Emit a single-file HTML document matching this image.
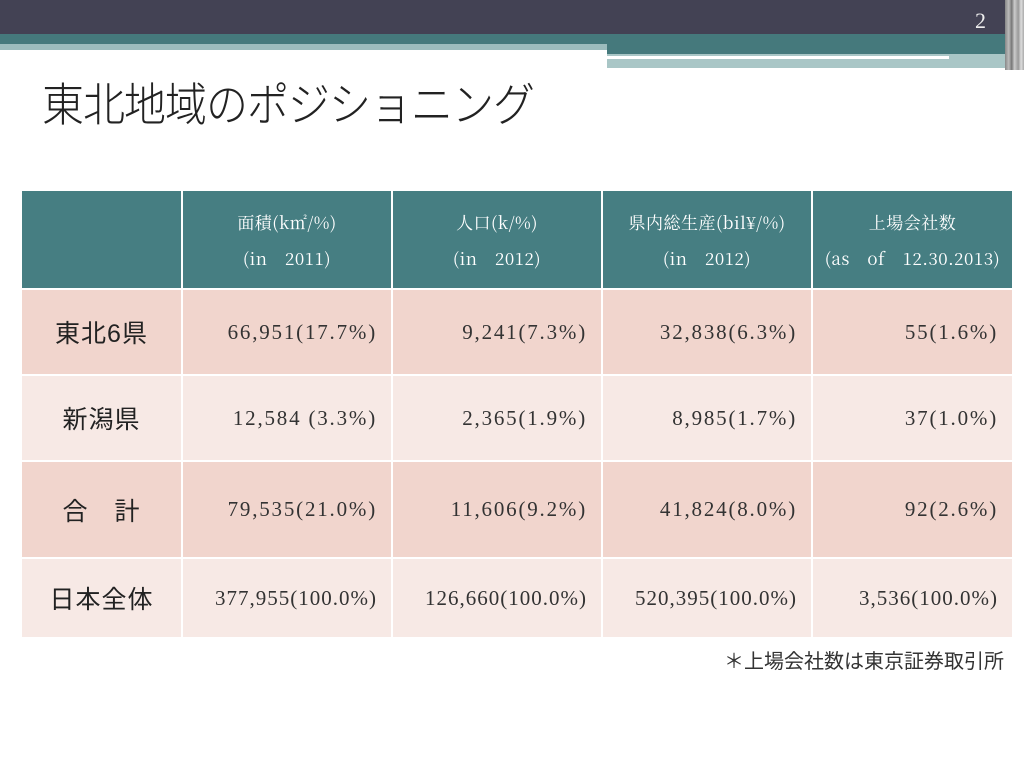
<!DOCTYPE html>
<html><head><meta charset="utf-8"><style>
body{margin:0;width:1024px;height:768px;position:relative;background:#fff;overflow:hidden;font-family:"Liberation Serif","Noto Serif CJK SC",serif;}
.abs{position:absolute}
table{position:absolute;left:20px;top:189px;border-collapse:collapse;table-layout:fixed}
td,th{border:2px solid #fff;padding:0;color:#333;}
th{background:#467e82;color:#fff;font-weight:normal;font-size:17px;line-height:36px;text-align:center;font-family:"Noto Serif CJK SC","Liberation Serif",serif;letter-spacing:0.5px}
td.l{font-family:"Liberation Sans","Noto Sans CJK JP",sans-serif;font-size:25px;text-align:center;color:#222;letter-spacing:1px}
td.v{font-size:21px;text-align:right;padding-right:14px;letter-spacing:1.8px}
tr.a td{background:#f1d5cd}
tr.b td{background:#f7e9e5}
</style></head><body>
<div class="abs" style="left:0;top:0;width:1024px;height:34px;background:#434254"></div>
<div class="abs" style="left:0;top:34px;width:1005px;height:12px;background:#45797c"></div>
<div class="abs" style="left:0;top:44px;width:607px;height:6px;background:#9cbcbd"></div>
<div class="abs" style="left:607px;top:44px;width:398px;height:10px;background:#45797c"></div>
<div class="abs" style="left:607px;top:54px;width:398px;height:14px;background:#a9c6c6"></div>
<div class="abs" style="left:607px;top:56px;width:342px;height:3px;background:#fff"></div>
<div class="abs" style="left:1005px;top:0;width:19px;height:70px;background:linear-gradient(90deg,#888 0,#bbb 20%,#777 35%,#ccc 50%,#999 70%,#ddd 85%,#aaa 100%)"></div>
<div class="abs" style="left:975px;top:8px;color:#eee;font-size:22px">2</div>
<div class="abs" style="left:42px;top:68px;font-size:42px;color:#222;font-family:'Noto Sans CJK JP',sans-serif;font-weight:300;letter-spacing:-1px;transform:scaleY(1.1);transform-origin:top left">東北地域のポジショニング</div>
<table>
<colgroup><col style="width:161px"><col style="width:210px"><col style="width:210px"><col style="width:210px"><col style="width:201px"></colgroup>
<tr style="height:99px"><th></th><th>面積(k㎡/%)<br>(in　2011)</th><th>人口(k/%)<br>(in　2012)</th><th>県内総生産(bil¥/%)<br>(in　2012)</th><th>上場会社数<br>(as　of　12.30.2013)</th></tr>
<tr class="a" style="height:86px"><td class="l">東北6県</td><td class="v">66,951(17.7%)</td><td class="v">9,241(7.3%)</td><td class="v">32,838(6.3%)</td><td class="v">55(1.6%)</td></tr>
<tr class="b" style="height:86px"><td class="l">新潟県</td><td class="v">12,584 (3.3%)</td><td class="v">2,365(1.9%)</td><td class="v">8,985(1.7%)</td><td class="v">37(1.0%)</td></tr>
<tr class="a" style="height:97px"><td class="l">合　計</td><td class="v">79,535(21.0%)</td><td class="v">11,606(9.2%)</td><td class="v">41,824(8.0%)</td><td class="v">92(2.6%)</td></tr>
<tr class="b" style="height:80px"><td class="l">日本全体</td><td class="v" style="letter-spacing:1px">377,955(100.0%)</td><td class="v" style="letter-spacing:1px">126,660(100.0%)</td><td class="v" style="letter-spacing:1px">520,395(100.0%)</td><td class="v" style="letter-spacing:1px">3,536(100.0%)</td></tr>
</table>
<div class="abs" style="left:724px;top:645px;font-size:20px;color:#333;font-family:'Liberation Sans','Noto Sans CJK JP',sans-serif">＊上場会社数は東京証券取引所</div>
</body></html>
